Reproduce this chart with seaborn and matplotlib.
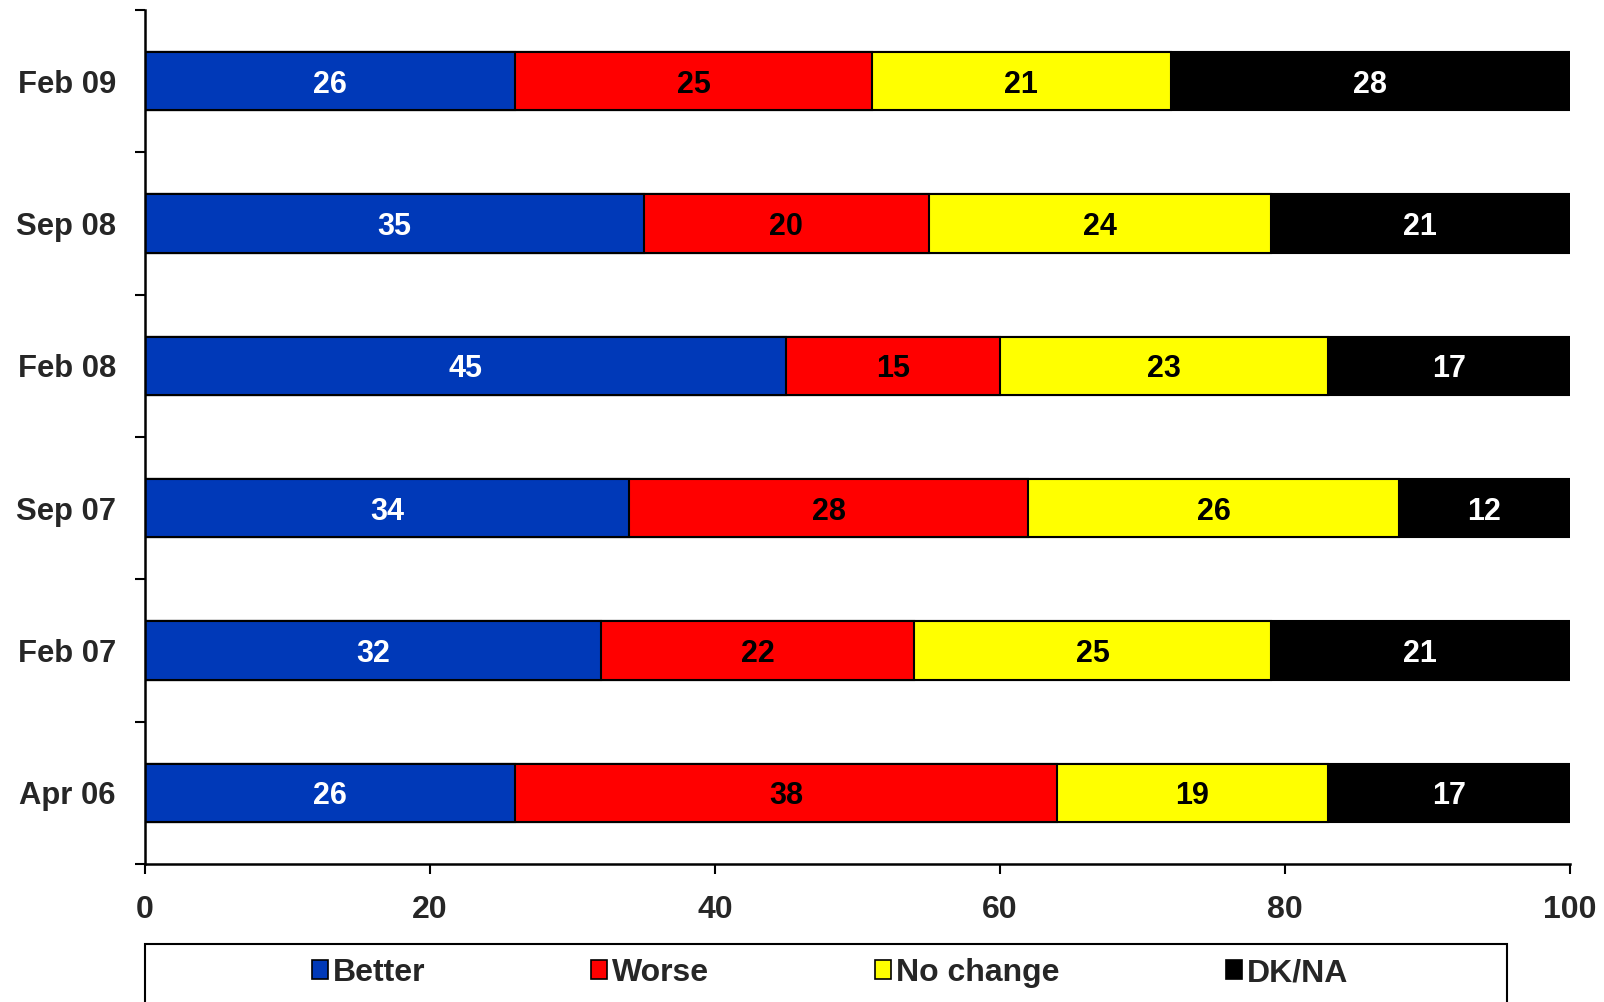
import numpy as np
import pandas as pd
import seaborn as sns
import matplotlib.pyplot as plt
from matplotlib.patches import Rectangle, Patch

# --- dados ---
periodos = ['Feb 09', 'Sep 08', 'Feb 08', 'Sep 07', 'Feb 07', 'Apr 06']
series = ['Better', 'Worse', 'No change', 'DK/NA']
better = [26, 35, 45, 34, 32, 26]
worse = [25, 20, 15, 28, 22, 38]
no_change = [21, 24, 23, 26, 25, 19]
dk_na = [28, 21, 17, 12, 21, 17]

cores = ['#0039B8', '#FF0000', '#FFFF00', '#000000']
cores_texto = ['white', 'black', 'black', 'white']

df = pd.DataFrame({'Periodo': periodos, 'Better': better, 'Worse': worse,
                   'No change': no_change, 'DK/NA': dk_na})
acumulado = df[series].cumsum(axis=1)

sns.set_style('white')
plt.rcParams['font.family'] = ['Liberation Sans', 'DejaVu Sans']
plt.rcParams['font.weight'] = 'bold'

fig = plt.figure(figsize=(16.04, 10.02), dpi=100)
ax = fig.add_axes([0.0904, 0.1377, 0.8884, 0.8523])

# barras empilhadas: desenha do total para o primeiro segmento
for i in range(len(series) - 1, -1, -1):
    sns.barplot(x=acumulado[series[i]], y=df['Periodo'], orient='h', color=cores[i],
                width=0.41, edgecolor='black', linewidth=1.5, saturation=1, ax=ax)

# rótulos de valor
for i, s in enumerate(series):
    inicio = acumulado[s] - df[s]
    for j in range(len(periodos)):
        ax.text(inicio[j] + df[s][j] / 2, j, str(df[s][j]), ha='center', va='center_baseline',
                color=cores_texto[i], fontsize=22, fontweight='bold')

ax.set_xlim(0, 100)
ax.set_ylim(len(periodos) - 0.5, -0.5)
ax.set_xticks(np.arange(0, 101, 20))
ax.set_yticks(np.arange(len(periodos)))
ax.set_yticks(np.arange(-0.5, len(periodos), 1), minor=True)
ax.set_yticklabels(periodos)
ax.set_xlabel('')
ax.set_ylabel('')

for lbl in ax.get_xticklabels():
    lbl.set_fontsize(23)
    lbl.set_fontweight('bold')
for lbl in ax.get_yticklabels():
    lbl.set_fontsize(22.3)
    lbl.set_fontweight('bold')

ax.tick_params(axis='y', which='major', length=0, pad=21)
ax.tick_params(axis='y', which='minor', length=7, width=1.5, color='black', direction='out', left=True)
ax.tick_params(axis='x', length=7, width=1.5, color='black', direction='out', bottom=True, pad=15)

for lado in ['top', 'right']:
    ax.spines[lado].set_visible(False)
for lado in ['left', 'bottom']:
    ax.spines[lado].set_color('black')
    ax.spines[lado].set_linewidth(1.8)

# legenda com moldura
fig.add_artist(Rectangle((145 / 1604, -0.02), (1507 - 145) / 1604, 0.0778,
                         transform=fig.transFigure, facecolor='white', edgecolor='black',
                         linewidth=1.5))
alcas = [Patch(facecolor=c, edgecolor='black', linewidth=1.2) for c in cores]
fig.legend(alcas, series, loc='center', bbox_to_anchor=(830 / 1604, 1 - 973 / 1002),
           ncol=4, frameon=False, handlelength=0.5, handleheight=0.55,
           handletextpad=0.15, columnspacing=5.2,
           prop={'weight': 'bold', 'size': 23})

fig.savefig('out.png', dpi=100)
